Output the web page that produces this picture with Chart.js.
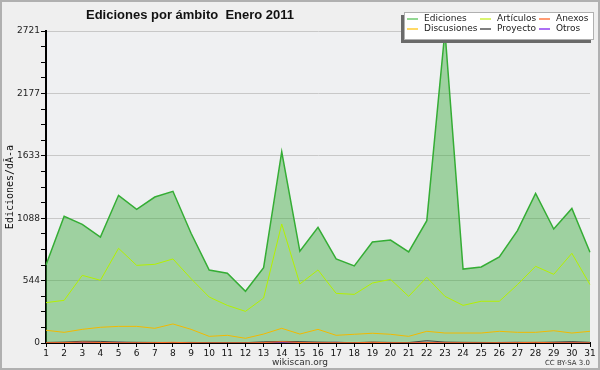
<!DOCTYPE html>
<html>
<head>
<meta charset="utf-8">
<script src="https://cdn.jsdelivr.net/npm/chart.js@4"></script>
<style>
  html, body { margin: 0; padding: 0; background: #efefef; }
  #wrap { width: 600px; height: 370px; position: relative; }
</style>
</head>
<body>
<div id="wrap"><canvas id="chart" width="600" height="370"></canvas></div>
<script>
// Ediciones por ámbito, Enero 2011 (wikiscan)
const days = Array.from({ length: 31 }, (_, i) => String(i + 1));
const yMax = 2721;

const ediciones   = [680, 1105, 1035, 924, 1288, 1166, 1273, 1323, 957, 637, 608, 451, 657, 1668, 800, 1009,
                     733, 672, 881, 898, 794, 1067, 2721, 645, 663, 750, 980, 1305, 994, 1174, 791];
const articulos   = [352, 372, 590, 547, 826, 677, 686, 733, 561, 401, 328, 276, 392, 1038, 515, 637,
                     433, 424, 523, 555, 407, 573, 407, 328, 364, 364, 509, 669, 599, 782, 509];
const discusiones = [111, 93, 119, 137, 145, 145, 128, 166, 119, 58, 67, 41, 78, 128, 78, 119,
                     67, 76, 85, 76, 58, 102, 87, 87, 87, 102, 93, 93, 107, 87, 102];
const anexos      = [2, 3, 8, 4, 2, 2, 3, 6, 2, 1, 1, 1, 3, 12, 4, 2, 2, 2, 6, 2, 1, 4, 2, 2, 1, 2, 3, 6, 2, 2, 1];
const proyecto    = [5, 8, 15, 14, 8, 6, 5, 4, 5, 3, 3, 3, 10, 14, 12, 8, 6, 3, 8, 5, 4, 20, 8, 6, 5, 4, 6, 5, 8, 12, 6];
const otros       = [1, 1, 2, 2, 6, 2, 1, 1, 1, 0, 0, 0, 1, 2, 1, 2, 6, 2, 2, 2, 1, 6, 1, 1, 1, 5, 5, 1, 1, 1, 1];

const legendItems = [
  { label: 'Ediciones',   color: '#6fcb6f' },
  { label: 'Artículos',   color: '#ccf040' },
  { label: 'Anexos',      color: '#ff7a45' },
  { label: 'Discusiones', color: '#ffcc33' },
  { label: 'Proyecto',    color: '#555555' },
  { label: 'Otros',       color: '#9040f0' },
];

const line = (label, data, color, extra) => Object.assign({
  label, data, borderColor: color, borderWidth: 1, pointRadius: 0, tension: 0, fill: false, order: 0,
}, extra || {});

const decor = {
  id: 'decor',
  beforeDraw(chart) {
    const { ctx, chartArea: a } = chart;
    ctx.save();
    ctx.fillStyle = '#efefef';
    ctx.fillRect(0, 0, 600, 370);
    ctx.fillStyle = '#eff0f2';
    ctx.fillRect(a.left, a.top, a.right - a.left, a.bottom - a.top);
    ctx.restore();
  },
  afterDraw(chart) {
    const { ctx, chartArea: a } = chart;
    ctx.save();
    // frame
    ctx.strokeStyle = '#b0b0b0';
    ctx.lineWidth = 2;
    ctx.strokeRect(1, 1, 598, 368);

    // title
    ctx.fillStyle = '#111';
    ctx.font = 'bold 13px "Liberation Sans", sans-serif';
    ctx.textAlign = 'left';
    ctx.textBaseline = 'alphabetic';
    ctx.fillText('Ediciones por ámbito  Enero 2011', 86, 19);

    // y title
    ctx.save();
    ctx.translate(13, (a.top + a.bottom) / 2);
    ctx.rotate(-Math.PI / 2);
    ctx.font = '10px "DejaVu Sans Mono", monospace';
    ctx.textAlign = 'center';
    ctx.fillStyle = '#111';
    ctx.fillText('Ediciones/dÃ-a', 0, 0);
    ctx.restore();

    // footer
    ctx.font = '9px "DejaVu Sans", sans-serif';
    ctx.fillStyle = '#333';
    ctx.textAlign = 'center';
    ctx.fillText('wikiscan.org', 300, 365);
    ctx.font = '7px "DejaVu Sans", sans-serif';
    ctx.textAlign = 'right';
    ctx.fillText('CC BY-SA 3.0', 590, 365);

    // legend
    const lx = 404, ly = 12, lw = 190, lh = 28;
    ctx.fillStyle = '#6a6a6a';
    ctx.fillRect(lx - 3, ly + 3, lw, lh);
    ctx.fillStyle = '#fff';
    ctx.fillRect(lx, ly, lw, lh);
    ctx.strokeStyle = '#b0b0b0';
    ctx.lineWidth = 1;
    ctx.strokeRect(lx + 0.5, ly + 0.5, lw - 1, lh - 1);
    const cols = [407, 480, 539];
    ctx.font = '9px "DejaVu Sans", sans-serif';
    ctx.textAlign = 'left';
    ctx.textBaseline = 'middle';
    legendItems.forEach((it, i) => {
      const x = cols[i % 3], y = i < 3 ? 19 : 29;
      ctx.strokeStyle = it.color;
      ctx.lineWidth = 1.5;
      ctx.beginPath();
      ctx.moveTo(x, y);
      ctx.lineTo(x + 11, y);
      ctx.stroke();
      ctx.fillStyle = '#222';
      ctx.fillText(it.label, x + 17, y);
    });
    ctx.restore();
  },
};

new Chart(document.getElementById('chart'), {
  type: 'line',
  data: {
    labels: days,
    datasets: [
      line('Ediciones', ediciones, '#35ad35', { fill: 'origin', backgroundColor: 'rgba(60,170,60,0.45)', borderWidth: 1.5, order: 10 }),
      line('Artículos', articulos, '#b4f000'),
      line('Discusiones', discusiones, '#f2b900'),
      line('Anexos', anexos, '#ff6a20'),
      line('Proyecto', proyecto, '#444444'),
      line('Otros', otros, '#8a2be2'),
    ],
  },
  options: {
    responsive: false,
    animation: false,
    layout: { padding: { top: 31, right: 10, left: 0, bottom: 0 } },
    plugins: { legend: { display: false }, tooltip: { enabled: false }, title: { display: false } },
    scales: {
      x: {
        offset: false,
        grid: { drawOnChartArea: false, tickColor: '#000', tickLength: 4 },
        border: { color: '#000', width: 2 },
        ticks: { color: '#111', font: { family: 'DejaVu Sans', size: 9 }, maxRotation: 0, autoSkip: false, padding: 1 },
        afterFit: s => { s.height = 27; },
      },
      y: {
        min: 0,
        max: yMax,
        afterBuildTicks: s => { s.ticks = Array.from({ length: 21 }, (_, i) => ({ value: i * yMax / 20 })); },
        grid: {
          color: c => (c.index % 4 === 0 && c.index > 0) ? '#c8c8c8' : 'rgba(0,0,0,0)',
          tickColor: '#000',
          tickLength: 5,
        },
        border: { color: '#000', width: 2 },
        ticks: {
          color: '#222',
          font: { family: 'DejaVu Sans', size: 9 },
          padding: 1,
          autoSkip: false,
          callback: (v, i) => i % 4 === 0 ? String(Math.round(v)) : '',
        },
        afterFit: s => { s.width = 46; },
      },
    },
  },
  plugins: [decor],
});
</script>
</body>
</html>
